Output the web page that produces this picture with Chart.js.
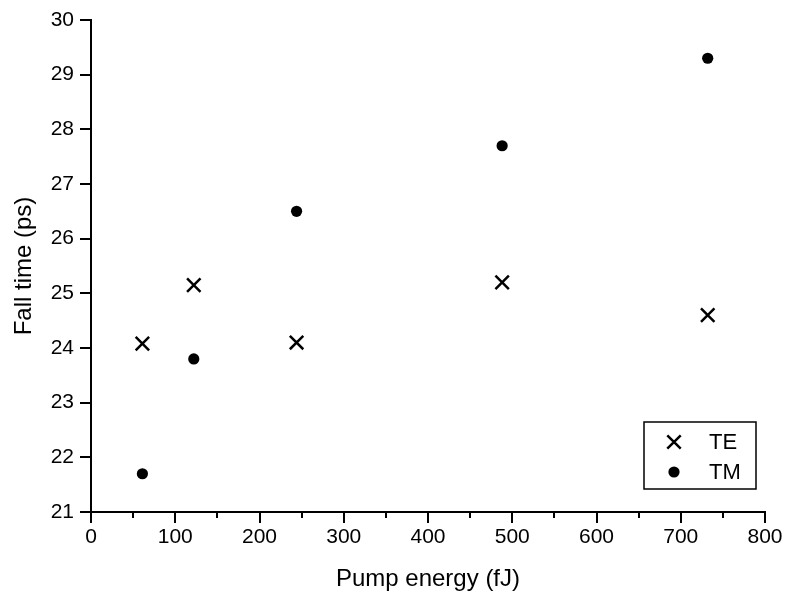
<!DOCTYPE html>
<html>
<head>
<meta charset="utf-8">
<script src="https://cdn.jsdelivr.net/npm/chart.js@4"></script>
<style>
  html, body { margin: 0; padding: 0; background: #fff; }
  #wrap { width: 789px; height: 598px; }
</style>
</head>
<body>
<div id="wrap"><canvas id="chart" width="789" height="598"></canvas></div>
<script>
// pump energies (fJ) and fall times (ps)
const energies = [61, 122, 244, 488, 732];
const teFall = [24.08, 25.15, 24.1, 25.2, 24.6];
const tmFall = [21.7, 23.8, 26.5, 27.7, 29.3];
const seriesNames = ['TE', 'TM'];

const FONT = 'Liberation Sans, Arial, sans-serif';

const toPoints = ys => energies.map((x, i) => ({ x: x, y: ys[i] }));

// major + minor tick marks drawn outward from the axis lines
const tickMarks = {
  id: 'tickMarks',
  afterDraw(chart) {
    const ctx = chart.ctx;
    const xs = chart.scales.x, ys = chart.scales.y;
    ctx.save();
    ctx.strokeStyle = '#000';
    ctx.lineWidth = 2;
    ys.ticks.forEach(t => {
      const py = Math.round(ys.getPixelForValue(t.value));
      const len = Number.isInteger(t.value) ? 11 : 6;
      ctx.beginPath();
      ctx.moveTo(xs.left, py);
      ctx.lineTo(xs.left - len, py);
      ctx.stroke();
    });
    xs.ticks.forEach(t => {
      const px = Math.round(xs.getPixelForValue(t.value));
      const len = t.value % 100 === 0 ? 11 : 6;
      ctx.beginPath();
      ctx.moveTo(px, ys.bottom);
      ctx.lineTo(px, ys.bottom + len);
      ctx.stroke();
    });
    ctx.restore();
  }
};

// boxed legend in the lower right corner of the plot
const boxLegend = {
  id: 'boxLegend',
  afterDraw(chart) {
    const ctx = chart.ctx;
    const area = chart.chartArea;
    const bx = area.right - 121, by = area.bottom - 90, bw = 112, bh = 67;
    ctx.save();
    ctx.strokeStyle = '#000';
    ctx.lineWidth = 1.5;
    ctx.strokeRect(bx, by, bw, bh);
    ctx.font = '22px ' + FONT;
    ctx.fillStyle = '#000';
    ctx.textBaseline = 'middle';
    chart.data.datasets.forEach((ds, i) => {
      const cy = by + 20 + i * 30;
      ctx.strokeStyle = '#000';
      ctx.fillStyle = '#000';
      ctx.lineWidth = ds.borderWidth;
      Chart.helpers.drawPoint(ctx, { pointStyle: ds.pointStyle, radius: ds.pointRadius, borderWidth: ds.borderWidth, rotation: 0 }, bx + 30, cy);
      ctx.fillText(ds.label, bx + 65, cy + 1);
    });
    ctx.restore();
  }
};

new Chart(document.getElementById('chart'), {
  type: 'scatter',
  data: {
    datasets: [
      {
        label: seriesNames[0],
        data: toPoints(teFall),
        pointStyle: 'crossRot',
        pointRadius: 9.5,
        borderWidth: 2.5,
        borderColor: '#000',
        backgroundColor: '#000'
      },
      {
        label: seriesNames[1],
        data: toPoints(tmFall),
        pointStyle: 'circle',
        pointRadius: 5.6,
        borderWidth: 0,
        borderColor: '#000',
        backgroundColor: '#000'
      }
    ]
  },
  options: {
    responsive: false,
    animation: false,
    events: [],
    layout: { padding: { top: 20, right: 24, left: 0, bottom: 0 } },
    plugins: { legend: { display: false }, tooltip: { enabled: false } },
    scales: {
      x: {
        type: 'linear',
        min: 0, max: 800,
        afterFit: s => { s.height = 86; s.paddingLeft = 0; s.paddingRight = 0; },
        ticks: {
          stepSize: 50,
          padding: 13,
          color: '#000',
          font: { family: FONT, size: 21 },
          callback: v => (v % 100 === 0 ? String(v) : '')
        },
        grid: { drawOnChartArea: false, drawTicks: false, tickLength: 0 },
        border: { display: true, color: '#000', width: 2 },
        title: {
          display: true,
          text: 'Pump energy (fJ)',
          color: '#000',
          font: { family: FONT, size: 24 },
          padding: { top: 0, bottom: 4 }
        }
      },
      y: {
        type: 'linear',
        min: 21, max: 30,
        afterFit: s => { s.width = 91; s.paddingTop = 0; s.paddingBottom = 0; },
        ticks: {
          stepSize: 0.5,
          padding: 17,
          color: '#000',
          font: { family: FONT, size: 21 },
          callback: v => (Number.isInteger(v) ? String(v) : '')
        },
        grid: { drawOnChartArea: false, drawTicks: false, tickLength: 0 },
        border: { display: true, color: '#000', width: 2 },
        title: {
          display: true,
          text: 'Fall time (ps)',
          color: '#000',
          font: { family: FONT, size: 24 },
          padding: { top: 10, bottom: 0 }
        }
      }
    }
  },
  plugins: [tickMarks, boxLegend]
});
</script>
</body>
</html>
